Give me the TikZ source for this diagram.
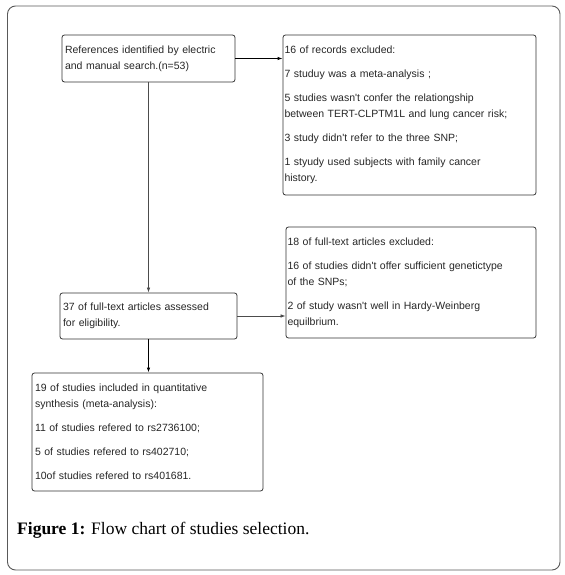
\documentclass[tikz,border=0pt]{standalone}
\usepackage{fontspec}
\setmainfont{Liberation Serif}
\newfontfamily\boxfont{Liberation Sans}
\usepackage{tikz}
\usetikzlibrary{arrows.meta}
\usetikzlibrary{shapes}

\begin{document}
\begin{tikzpicture}[>={Latex[length=5bp,width=3.5bp]},line join=bevel,
  flowbox/.style={draw=black!80,line width=0.8bp,rounded corners=2.5bp,align=left,
    inner xsep=3bp,inner ysep=0bp,font=\boxfont\fontsize{10.5bp}{16bp}\selectfont,text=black!85},]
%%
\useasboundingbox (0bp,0bp) rectangle (565bp,575bp);
\draw [black!65,line width=0.9bp,rounded corners=8bp] (7.5bp,5bp) rectangle (560bp,569bp);
%%
\node (node_refs) at (148.5bp,516.5bp) [flowbox,text width=167bp,minimum height=47bp]
  {References identified by electric\\and manual search.(n=53)};
  \node (node_excl) at (409.5bp,460bp) [flowbox,inner xsep=1.5bp,text width=250bp,minimum height=160bp]
  {16 of records excluded:\\[8bp]7 studuy was a meta-analysis ;\\[8bp]5 studies wasn't confer the relationgship\\between TERT-CLPTM1L and lung cancer risk;\\[8bp]3 study didn't refer to the three SNP;\\[8bp]1 styudy used subjects with family cancer\\history.};
  \node (node_full) at (148.5bp,259bp) [flowbox,text width=171bp,minimum height=46bp]
  {37 of full-text articles assessed\\for eligibility.};
  \node (node_fexcl) at (411bp,292.5bp) [flowbox,inner xsep=1.5bp,text width=247bp,minimum height=111bp]
  {18 of full-text articles excluded:\\[8bp]16 of studies didn't offer sufficient genetictype\\of the SNPs;\\[8bp]2 of study wasn't well in Hardy-Weinberg\\equilbrium.};
  \node (node_incl) at (147.5bp,143bp) [flowbox,text width=225bp,minimum height=118bp]
  {19 of studies included in quantitative\\synthesis (meta-analysis):\\[8bp]11 of studies refered to rs2736100;\\[8bp]5 of studies refered to rs402710;\\[8bp]10of studies refered to rs401681.};
  \node (caption) at (17bp,40bp) [anchor=base west,inner sep=0bp,font=\fontsize{17.5bp}{20bp}\selectfont]
  {\textbf{Figure 1:} Flow chart of studies selection.};
  \draw [black,line width=0.9bp,->] (node_refs.east) -- (node_refs.east -| node_excl.west);
  \draw [black!70,line width=0.7bp,->] (node_refs.south) -- (node_refs.south |- node_full.north);
  \draw [black!70,line width=0.7bp,->] (node_full.east) -- (node_full.east -| node_fexcl.west);
  \draw [black,line width=1.3bp,->] (node_full.south) -- (node_full.south |- node_incl.north);
%
\end{tikzpicture}
\end{document}
